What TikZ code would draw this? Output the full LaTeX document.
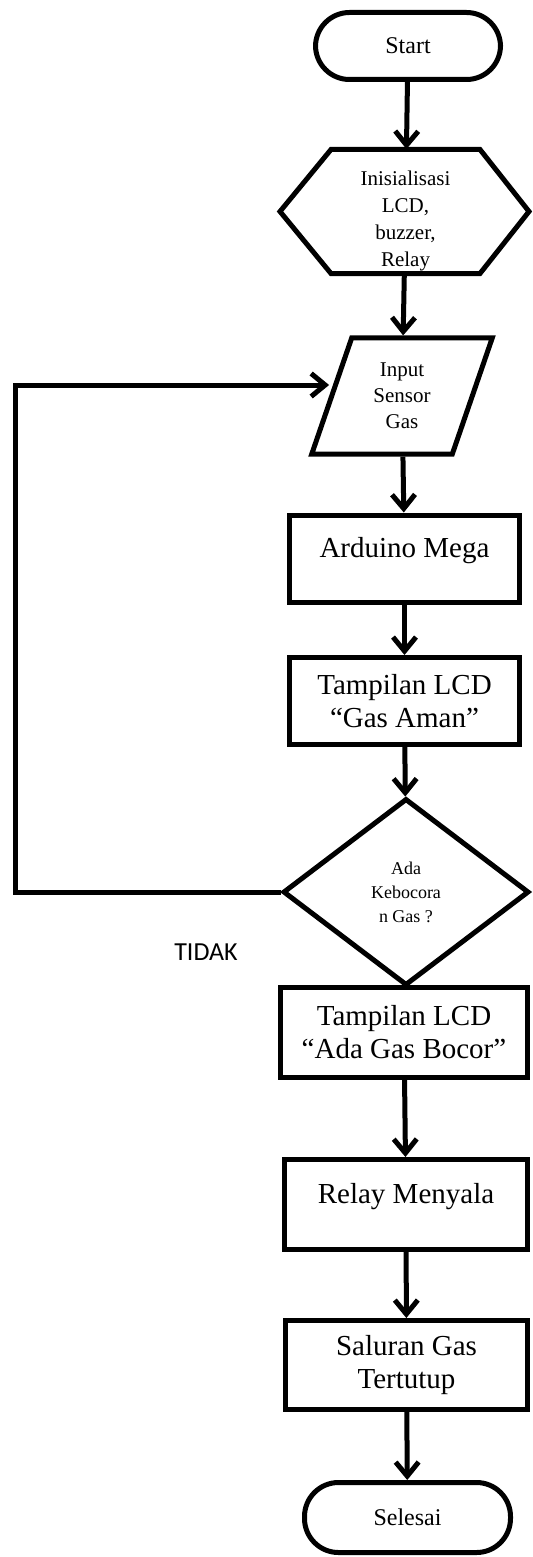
\documentclass[tikz,border=0pt]{standalone}
\usepackage{fontspec}
\setmainfont{Liberation Serif}
\newfontfamily\labelfont{Carlito}
\usetikzlibrary{arrows.meta,shapes.geometric}
\begin{document}
\begin{tikzpicture}[x=0.5pt, y=-0.5pt,
    box/.style={draw, line width=2.5pt, align=center, inner sep=0pt},
    terminal/.style={box, rectangle, rounded corners=17pt, font=\fontsize{12}{14}\selectfont},
    process/.style={box, rectangle, font=\fontsize{14.5}{16.5}\selectfont},
    flow/.style={line width=2.5pt, -{Straight Barb[length=7pt,width=11.5pt]}}]
    \useasboundingbox (0,0) rectangle (533,1557);

    %Start and initialisation
    \node (start) at (408,46) [terminal, minimum width=92.5pt, minimum height=33.5pt] {Start};
    %hexagon outline
    \draw[line width=2.5pt] (331,149.5) -- (480,149.5) -- (529,211.5) -- (480,273.5)
        -- (331,273.5) -- (280,211.5) -- cycle;
    \node (init) at (405.5,211.5) [align=center, inner sep=0pt, minimum height=62pt,
        text height=54.8pt, text depth=0pt, font=\fontsize{10.5}{13.5}\selectfont]
        {Inisialisasi\\LCD,\\buzzer,\\Relay};

    %Reading the sensor
    \node (input) at (402,396) [box, trapezium, trapezium left angle=71, trapezium right angle=109,
        minimum width=91pt, minimum height=51.5pt, font=\fontsize{10.5}{13}\selectfont]
        {Input\\Sensor\\Gas};
    \node (mega) at (404.5,558.5) [process, minimum width=115pt, minimum height=43.5pt, text depth=11pt] {Arduino Mega};
    \node (safe) at (404.5,701) [process, minimum width=115pt, minimum height=43.5pt] {Tampilan LCD\\“Gas Aman”};

    %Decision
    \node (leak) at (406,892) [box, diamond, minimum width=123pt, minimum height=93.5pt,
        font=\fontsize{9}{12}\selectfont] {Ada\\Kebocora\\n Gas ?};
    \node (no) at (206,952) {\labelfont\fontsize{13}{15}\selectfont TIDAK};
    \coordinate (loop) at (15,385);

    %Leak found
    \node (alarm) at (404,1032.5) [process, minimum width=123.5pt, minimum height=45pt] {Tampilan LCD\\“Ada Gas Bocor”};
    \node (relay) at (406,1204.5) [process, minimum width=121.5pt, minimum height=45pt, text depth=11pt] {Relay Menyala};
    \node (valve) at (406.5,1365) [process, minimum width=121pt, minimum height=44.5pt] {Saluran Gas\\Tertutup};
    \node (stop) at (407.5,1517.5) [terminal, minimum width=103pt, minimum height=35pt] {Selesai};

    %Connectors
    \draw[flow] (start) -- (init);
    \draw[flow] (init) -- (input);
    \draw[flow] (input) -- (mega);
    \draw[flow] (mega) -- (safe);
    \draw[flow] (safe) -- (leak);
    \draw[flow] (leak.west) -| (loop) -- (input.west |- loop);
    \draw[flow] (alarm) -- (relay);
    \draw[flow] (relay) -- (valve);
    \draw[flow] (valve) -- (stop);
\end{tikzpicture}
\end{document}
